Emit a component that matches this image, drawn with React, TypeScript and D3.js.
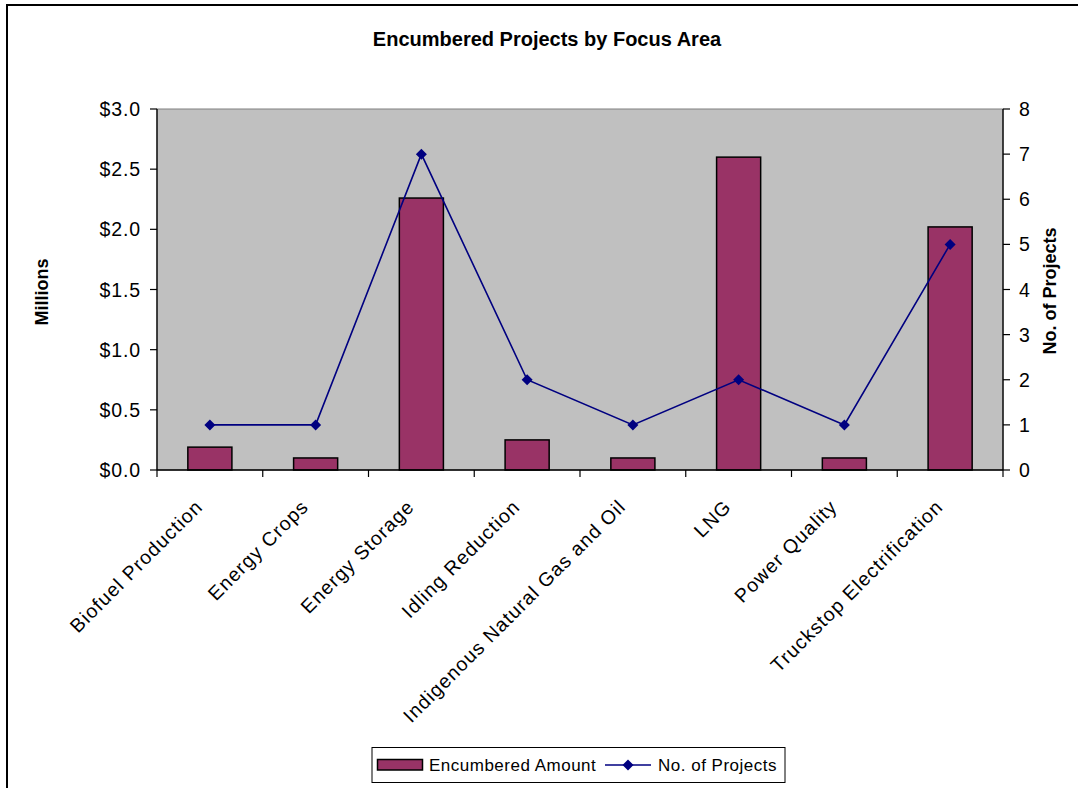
import React from "react";
import * as d3 from "d3";

// Focus areas and their values
const categories = [
  "Biofuel Production",
  "Energy Crops",
  "Energy Storage",
  "Idling Reduction",
  "Indigenous Natural Gas and Oil",
  "LNG",
  "Power Quality",
  "Truckstop Electrification",
];
// Encumbered amount, in millions of dollars
const amounts = [0.19, 0.1, 2.26, 0.25, 0.1, 2.6, 0.1, 2.02];
// Number of projects
const projects = [1, 1, 7, 2, 1, 2, 1, 5];

const amountTicks = [0, 0.5, 1.0, 1.5, 2.0, 2.5, 3.0];
const projectTicks = [0, 1, 2, 3, 4, 5, 6, 7, 8];

const W = 1078;
const H = 788;
const FONT = "'Liberation Sans', Arial, Helvetica, sans-serif";

const plot = { left: 157, right: 1003, top: 109, bottom: 470 };

const BAR_FILL = "#993366";
const LINE_COLOR = "#000080";

function diamond(cx: number, cy: number, r: number) {
  return `M${cx},${cy - r}L${cx + r},${cy}L${cx},${cy + r}L${cx - r},${cy}Z`;
}

export default function App() {
  const x = d3
    .scaleBand<string>()
    .domain(categories)
    .range([plot.left, plot.right])
    .paddingInner(0)
    .paddingOuter(0);
  const step = x.step();
  const barW = step / 2.4; // gap width 140%

  const yAmt = d3.scaleLinear().domain([0, 3]).range([plot.bottom, plot.top]);
  const yProj = d3.scaleLinear().domain([0, 8]).range([plot.bottom, plot.top]);

  const cx = (c: string) => (x(c) as number) + step / 2;

  const linePath = d3
    .line<number>()
    .x((_, i) => cx(categories[i]))
    .y((d) => yProj(d))(projects) as string;

  const boundaries = d3.range(categories.length + 1).map((i) => plot.left + i * step);

  return (
    <svg
      width={W}
      height={H}
      viewBox={`0 0 ${W} ${H}`}
      style={{ position: "fixed", left: 0, top: 0, background: "#fff" }}
      fontFamily={FONT}
    >
      {/* chart frame */}
      <rect x={7} y={5} width={W + 20} height={H + 20} fill="#fff" stroke="#000" strokeWidth={2} />

      {/* title */}
      <text x={547} y={46} textAnchor="middle" fontSize={20} fontWeight="bold" fill="#000">
        Encumbered Projects by Focus Area
      </text>

      {/* plot area */}
      <rect
        x={plot.left}
        y={plot.top}
        width={plot.right - plot.left}
        height={plot.bottom - plot.top}
        fill="#C0C0C0"
        stroke="#808080"
        strokeWidth={1}
      />

      {/* bars */}
      {categories.map((c, i) => (
        <rect
          key={c}
          x={cx(c) - barW / 2}
          y={yAmt(amounts[i])}
          width={barW}
          height={yAmt(0) - yAmt(amounts[i])}
          fill={BAR_FILL}
          stroke="#000"
          strokeWidth={1.5}
        />
      ))}

      {/* project count line */}
      <path d={linePath} fill="none" stroke={LINE_COLOR} strokeWidth={1.6} />
      {projects.map((p, i) => (
        <path key={i} d={diamond(cx(categories[i]), yProj(p), 5.5)} fill={LINE_COLOR} />
      ))}

      {/* left axis */}
      <line x1={plot.left} x2={plot.left} y1={plot.top} y2={plot.bottom} stroke="#000" strokeWidth={1.3} />
      {amountTicks.map((t) => (
        <g key={t}>
          <line x1={plot.left - 7} x2={plot.left} y1={yAmt(t)} y2={yAmt(t)} stroke="#000" strokeWidth={1.2} />
          <text
            x={141}
            y={yAmt(t)}
            dy="0.36em"
            textAnchor="end"
            fontSize={19.5}
            letterSpacing={0.9}
            fill="#000"
          >
            {d3.format("$.1f")(t)}
          </text>
        </g>
      ))}

      {/* right axis */}
      <line x1={plot.right} x2={plot.right} y1={plot.top} y2={plot.bottom} stroke="#000" strokeWidth={1.3} />
      {projectTicks.map((t) => (
        <g key={t}>
          <line x1={plot.right} x2={plot.right + 7} y1={yProj(t)} y2={yProj(t)} stroke="#000" strokeWidth={1.2} />
          <text x={1019} y={yProj(t)} dy="0.36em" textAnchor="start" fontSize={19.5} fill="#000">
            {t}
          </text>
        </g>
      ))}

      {/* category axis */}
      <line x1={plot.left} x2={plot.right} y1={plot.bottom} y2={plot.bottom} stroke="#000" strokeWidth={1.3} />
      {boundaries.map((b, i) => (
        <line key={i} x1={b} x2={b} y1={plot.bottom} y2={plot.bottom + 7} stroke="#000" strokeWidth={1.2} />
      ))}
      {categories.map((c) => (
        <text
          key={c}
          transform={`translate(${cx(c) - 6},${508}) rotate(-45)`}
          textAnchor="end"
          fontSize={19.5}
          letterSpacing={1.1}
          fill="#000"
        >
          {c}
        </text>
      ))}

      {/* axis titles */}
      <text
        transform={`translate(48,292) rotate(-90)`}
        textAnchor="middle"
        fontSize={18}
        fontWeight="bold"
        fill="#000"
      >
        Millions
      </text>
      <text
        transform={`translate(1056,291) rotate(-90)`}
        textAnchor="middle"
        fontSize={18}
        fontWeight="bold"
        fill="#000"
      >
        No. of Projects
      </text>

      {/* legend */}
      <rect x={372} y={747.5} width={413} height={35} fill="#fff" stroke="#000" strokeWidth={1} />
      <rect x={377.5} y={759.5} width={45} height={10.5} fill={BAR_FILL} stroke="#000" strokeWidth={1.5} />
      <text x={429} y={771} fontSize={17} letterSpacing={0.5} fill="#000">
        Encumbered Amount
      </text>
      <line x1={605} x2={651} y1={765} y2={765} stroke={LINE_COLOR} strokeWidth={1.6} />
      <path d={diamond(628, 765, 5.5)} fill={LINE_COLOR} />
      <text x={658} y={771} fontSize={17} letterSpacing={0.5} fill="#000">
        No. of Projects
      </text>
    </svg>
  );
}
